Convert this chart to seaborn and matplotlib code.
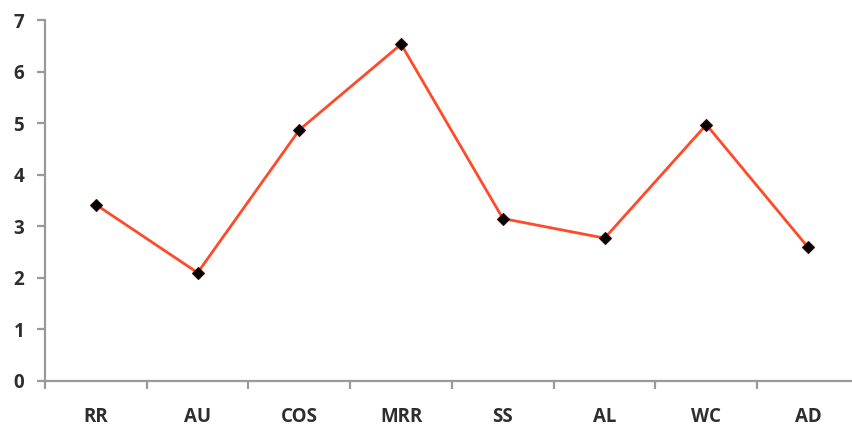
import matplotlib
matplotlib.use("Agg")
import matplotlib.pyplot as plt
import seaborn as sns
import pandas as pd
import numpy as np
from matplotlib.ticker import FixedLocator

categories = ["RR", "AU", "COS", "MRR", "SS", "AL", "WC", "AD"]
values = [3.42, 2.10, 4.87, 6.53, 3.15, 2.77, 4.97, 2.59]
y_ticks = [0, 1, 2, 3, 4, 5, 6, 7]

sns.set_theme(style="white")
plt.rcParams['font.family'] = ['Open Sans', 'DejaVu Sans']

df = pd.DataFrame({"cat": categories, "val": values})

fig = plt.figure(figsize=(8.53, 4.30), dpi=100)
ax = fig.add_axes([45/853, 1 - 381/430, 814/853, 361/430])

sns.lineplot(data=df, x="cat", y="val", sort=False, ax=ax,
             color="#FF4A2A", linewidth=2.0, marker="D", markersize=6,
             markerfacecolor="black", markeredgecolor="#3a0a05", markeredgewidth=0.8)

ax.set_xlim(-0.5, len(categories) - 0.5)
ax.set_ylim(0, 7)
ax.set_yticks(y_ticks)
ax.set_xlabel("")
ax.set_ylabel("")

for s in ["top", "right"]:
    ax.spines[s].set_visible(False)
for s in ["left", "bottom"]:
    ax.spines[s].set_color("#9a9a9a")
    ax.spines[s].set_linewidth(1.6)

ax.set_xticks(range(len(categories)))
ax.set_xticklabels(categories)
ax.xaxis.set_minor_locator(FixedLocator(np.arange(-0.5, len(categories), 1.0)))
ax.tick_params(axis="x", which="major", length=0, pad=19, labelsize=13.5, labelcolor="#2e2e2e")
ax.tick_params(axis="x", which="minor", bottom=True, length=6, width=1.6, color="#9a9a9a", direction="out")
ax.tick_params(axis="y", which="major", left=True, length=6, width=1.6, color="#9a9a9a", direction="out",
               labelsize=13.5, labelcolor="#2e2e2e", pad=9)
for lab in ax.get_xticklabels() + ax.get_yticklabels():
    lab.set_fontweight("bold")

ax.grid(False)
fig.savefig("out.png", dpi=100)
